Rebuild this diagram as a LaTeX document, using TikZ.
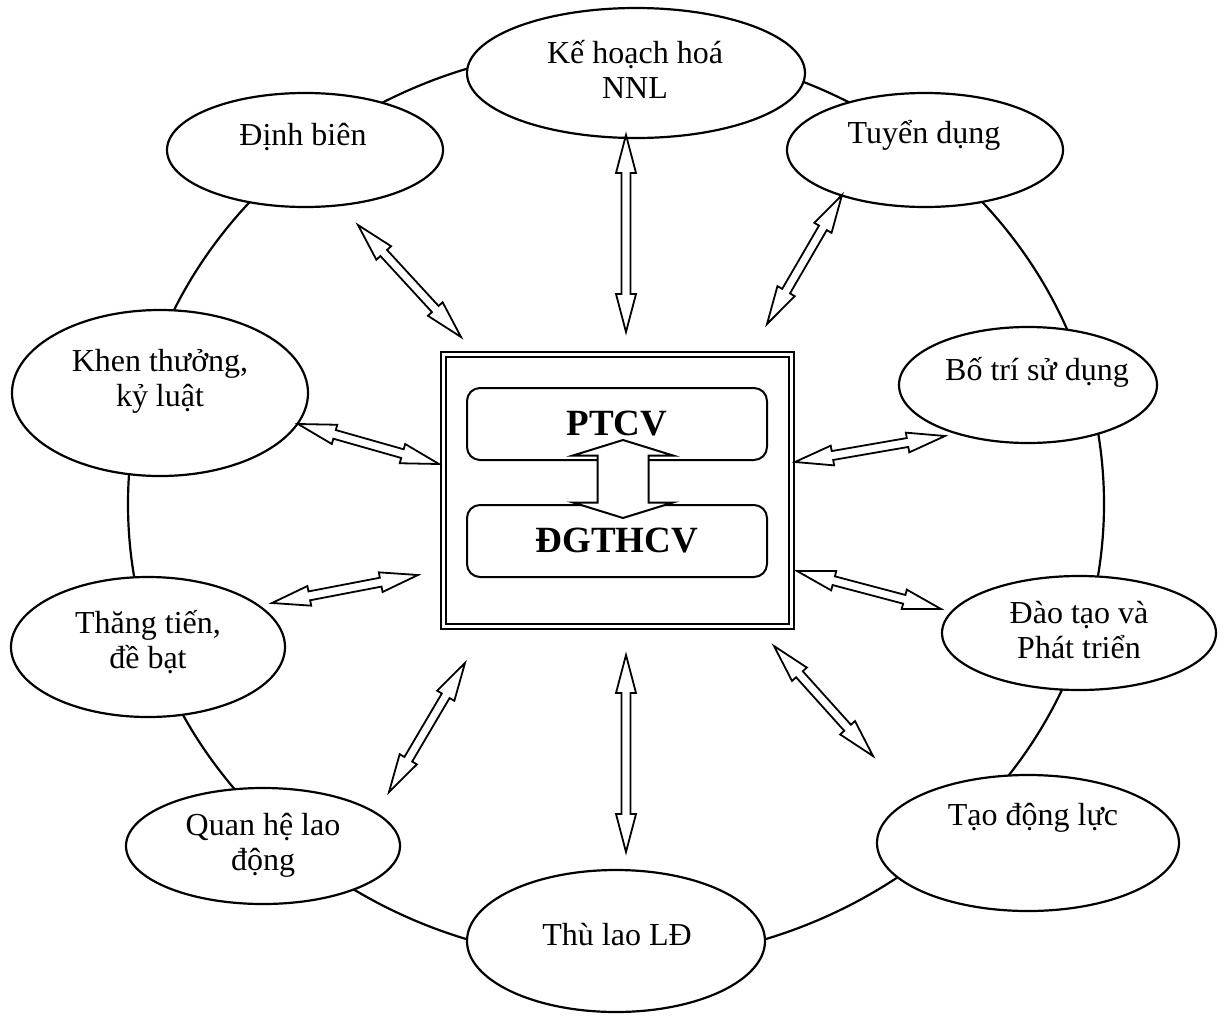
\documentclass[tikz,border=0pt]{standalone}
\usepackage{fontspec}
\setmainfont{Liberation Serif}
\usetikzlibrary{calc,shapes.geometric}

% two-line centred caption, first baseline on the node's base anchor
\newcommand\twolines[2]{\begin{tabular}[t]{@{}c@{}}#1\\#2\end{tabular}}

% outlined two-headed arrow between two named points
% #1 style, #2 start, #3 end, #4 head length, #5 head half width, #6 shaft half width
\newcommand\twoway[6]{%
  \draw[#1] (#2)
    -- ($(#2)!#4!(#3)!#5!90:(#3)$)
    -- ($(#2)!#4!(#3)!#6!90:(#3)$)
    -- ($(#3)!#4!(#2)!#6!-90:(#2)$)
    -- ($(#3)!#4!(#2)!#5!-90:(#2)$)
    -- (#3)
    -- ($(#3)!#4!(#2)!#5!90:(#2)$)
    -- ($(#3)!#4!(#2)!#6!90:(#2)$)
    -- ($(#2)!#4!(#3)!#6!-90:(#3)$)
    -- ($(#2)!#4!(#3)!#5!-90:(#3)$)
    -- cycle;}

\tikzset{
  bubble/.style={draw, line width=2.2pt, ellipse, fill=white, inner sep=0pt},
  caption/.style={anchor=base, inner sep=0pt, font=\fontsize{32}{35}\selectfont},
  hollow/.style={draw, fill=white, line width=1.8pt, line join=miter},
  panel/.style={draw, line width=2pt, rounded corners=13pt, minimum width=300pt,
    minimum height=72pt, inner sep=0pt, font=\fontsize{37}{40}\selectfont\bfseries},
  frame/.style={draw, double, line width=2.2pt, double distance=2.2pt,
    minimum width=348pt, minimum height=272pt, inner sep=0pt},
  ring/.style={draw, line width=2.2pt},
}

\begin{document}
\begin{tikzpicture}[x=1pt, y=-1pt]
\useasboundingbox (0,0) rectangle (1226,1017);

% outer cycle
\draw[ring] (616,504) ellipse [x radius=488pt, y radius=457pt];

% activities around the cycle
\node[bubble, minimum width=338pt, minimum height=130pt] (plan)    at (636,73)  {};
\node[bubble, minimum width=276pt, minimum height=114pt] (hire)    at (925,150) {};
\node[bubble, minimum width=276pt, minimum height=114pt] (staff)   at (305,150) {};
\node[bubble, minimum width=296pt, minimum height=166pt] (reward)  at (160,393) {};
\node[bubble, minimum width=258pt, minimum height=116pt] (deploy)  at (1028,385) {};
\node[bubble, minimum width=274pt, minimum height=140pt] (promote) at (148,647) {};
\node[bubble, minimum width=274pt, minimum height=114pt] (train)   at (1079,633) {};
\node[bubble, minimum width=274pt, minimum height=116pt] (relate)  at (263,846) {};
\node[bubble, minimum width=302pt, minimum height=136pt] (motive)  at (1028,843) {};
\node[bubble, minimum width=298pt, minimum height=142pt] (pay)     at (616,941) {};

\node[caption] (plan-t)    at (635,63)   {\twolines{Kế hoạch hoá}{NNL}};
\node[caption] (hire-t)    at (924,143)  {Tuyển dụng};
\node[caption] (staff-t)   at (303,145)  {Định biên};
\node[caption] (reward-t)  at (160,371)  {\twolines{Khen thưởng,}{kỷ luật}};
\node[caption] (deploy-t)  at (1037,380) {Bố trí sử dụng};
\node[caption] (promote-t) at (148,633)  {\twolines{Thăng tiến,}{đề bạt}};
\node[caption] (train-t)   at (1079,623) {\twolines{Đào tạo và}{Phát triển}};
\node[caption] (relate-t)  at (263,835)  {\twolines{Quan hệ lao}{động}};
\node[caption] (motive-t)  at (1033,825) {Tạo động lực};
\node[caption] (pay-t)     at (617,945)  {Thù lao LĐ};

% central block
\node[frame] (core) at (617.5,490.5) {};
\node[panel] (ptcv)  at (617,424) {PTCV};
\node[panel] (dgthcv) at (617,541) {ĐGTHCV};

\coordinate (ptcv-tip)   at (623,440);
\coordinate (dgthcv-tip) at (623,518);
\twoway{hollow, line width=2pt}{ptcv-tip}{dgthcv-tip}{15.5pt}{50pt}{25.5pt}

% links between the core and each activity
\coordinate (a1) at (626,135);  \coordinate (b1) at (626,332);
\coordinate (a2) at (842,195);  \coordinate (b2) at (767,324);
\coordinate (a3) at (358,225);  \coordinate (b3) at (461,337);
\coordinate (a4) at (298,424);  \coordinate (b4) at (439,464);
\coordinate (a5) at (945,436);  \coordinate (b5) at (795,462);
\coordinate (a6) at (272,603);  \coordinate (b6) at (418,575);
\coordinate (a7) at (941,609);  \coordinate (b7) at (797,571);
\coordinate (a8) at (873,756);  \coordinate (b8) at (774,646);
\coordinate (a9) at (626,852);  \coordinate (b9) at (626,655);
\coordinate (a10) at (389,792); \coordinate (b10) at (465,663);

\foreach \i in {1,...,10}{
  \twoway{hollow}{a\i}{b\i}{38pt}{10pt}{4.5pt}
}
\end{tikzpicture}
\end{document}
